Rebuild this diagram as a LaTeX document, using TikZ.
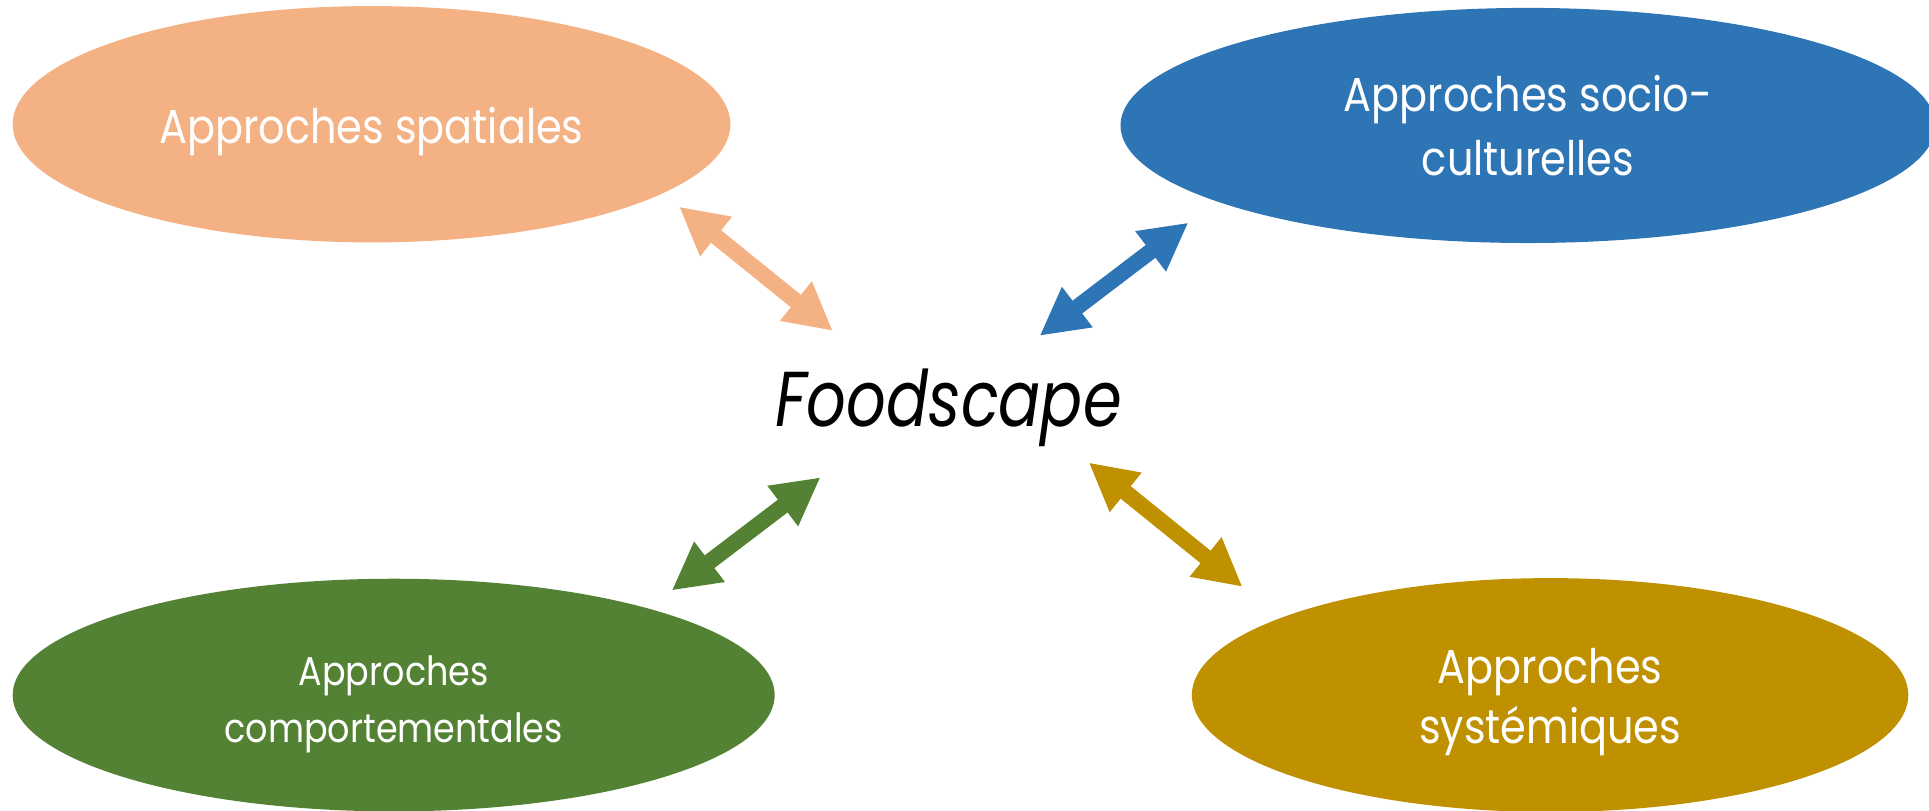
\documentclass[tikz,border=0pt]{standalone}
\usepackage{fontspec}
\setmainfont{Poppins}[FakeStretch=0.87]
\newfontfamily\foodfont{Poppins}[FakeStretch=0.8]
\usetikzlibrary{shapes.geometric,arrows.meta}

\definecolor{spatcol}{HTML}{F4B183}
\definecolor{soccol}{HTML}{2E75B6}
\definecolor{compcol}{HTML}{548235}
\definecolor{systcol}{HTML}{BF9000}

% two centred lines, baseline on the first one
\newcommand{\deuxlignes}[2]{\begin{tabular}[t]{@{}c@{}}#1\\#2\end{tabular}}

\begin{document}
\begin{tikzpicture}
          [x=0.01cm,y=-0.01cm,
           approche/.style={shape=ellipse,inner sep=0pt,text=white,
             font=\fontsize{11}{14.8}\selectfont,text height=0pt},
           dblarrow/.style={line width=0.13cm,
             {Triangle[length=0.386cm,width=0.384cm]}-{Triangle[length=0.386cm,width=0.384cm]}}]

          \clip (0,0) rectangle (1568,659);

          \node[approche,fill=spatcol,minimum width=5.83cm,minimum height=1.92cm,
                text height=0.32cm,text depth=0pt] (spat) at (302,101) {Approches spatiales};
          \node[approche,fill=soccol,minimum width=6.62cm,minimum height=1.91cm,
                text depth=0.224cm] (soc) at (1242,102) {\deuxlignes{Approches socio-}{culturelles}};
          \node[approche,fill=compcol,minimum width=6.19cm,minimum height=1.89cm,
                font=\fontsize{9.3}{13.3}\selectfont,text depth=0.16cm] (comp) at (320,565) {\deuxlignes{Approches}{comportementales}};
          \node[approche,fill=systcol,minimum width=5.82cm,minimum height=1.9cm,
                font=\fontsize{11}{13.85}\selectfont,text depth=0.19cm] (syst) at (1260,565) {\deuxlignes{Approches}{systémiques}};
          \node[anchor=base,font=\fontsize{18}{20}\selectfont\foodfont\itshape] (food) at (771,347) {Foodscape};

          \coordinate (spatA) at (552,168);
          \coordinate (spatB) at (677,269);
          \coordinate (socA) at (966,181);
          \coordinate (socB) at (845,273);
          \coordinate (compA) at (667,388);
          \coordinate (compB) at (546,480);
          \coordinate (systA) at (885,376);
          \coordinate (systB) at (1010,477);

          \draw[dblarrow,spatcol] (spatA) -- (spatB);
          \draw[dblarrow,soccol] (socA) -- (socB);
          \draw[dblarrow,compcol] (compA) -- (compB);
          \draw[dblarrow,systcol] (systA) -- (systB);
        \end{tikzpicture}
\end{document}
